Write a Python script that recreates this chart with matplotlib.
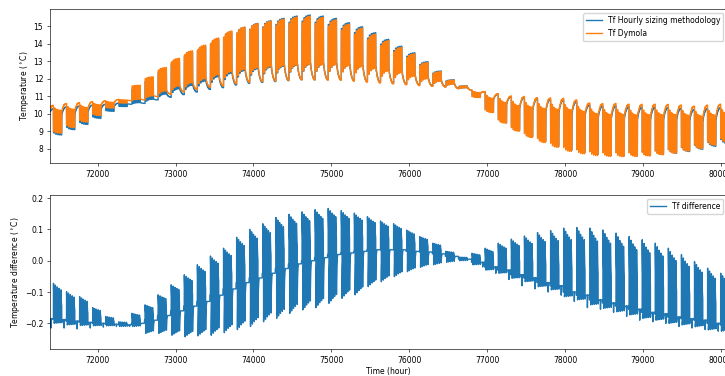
import matplotlib

matplotlib.use("Agg")

import matplotlib.pyplot as plt
import numpy as np

# Hour index of the Monday 00:00 that opens the first week listed below.
FIRST_MONDAY = 71256
ON_START, ON_END = 8, 18  # daily operating window on weekdays

# Weekly readings of the fluid temperature (hourly sizing methodology), deg C.
# Level at the start of the working week, weekday night level, operating level.
HOURLY_WEEKEND = [
    10.2, 10.3, 10.4, 10.45, 10.5, 10.55, 10.62, 10.55, 10.6, 10.8,
    10.95, 11.1, 11.25, 11.4, 11.5, 11.65, 11.75, 11.8, 11.85, 11.9,
    11.95, 11.95, 11.95, 11.95, 11.9, 11.85, 11.8, 11.75, 11.7, 11.65,
    11.6, 11.55, 11.45, 11.35, 11.26, 11.13, 10.98, 10.94, 10.86, 10.83,
    10.79, 10.69, 10.5, 10.45, 10.45, 10.4, 10.38, 10.38, 10.36, 10.32,
    10.25, 10.3, 10.35,
]
HOURLY_NIGHT = [
    9.9, 10.0, 10.05, 10.15, 10.3, 10.45, 10.58, 10.65, 10.85, 11.15,
    11.45, 11.65, 11.9, 12.15, 12.35, 12.5, 12.6, 12.7, 12.75, 12.8,
    12.85, 12.85, 12.85, 12.8, 12.75, 12.65, 12.5, 12.4, 12.2, 12.05,
    11.9, 11.72, 11.5, 11.2, 10.85, 10.6, 10.4, 10.3, 10.2, 10.15,
    10.1, 10.0, 9.85, 9.8, 9.8, 9.75, 9.75, 9.75, 9.75, 9.7,
    9.65, 9.7, 9.75,
]
HOURLY_ON = [
    8.7, 8.8, 9.1, 9.4, 9.75, 10.15, 10.42, 11.45, 11.95, 12.5,
    13.05, 13.5, 13.85, 14.28, 14.7, 14.95, 15.17, 15.32, 15.46, 15.59,
    15.65, 15.59, 15.46, 15.21, 14.98, 14.64, 14.26, 13.87, 13.49, 12.98,
    12.45, 11.95, 11.6, 10.95, 10.1, 9.5, 9.05, 8.7, 8.42, 8.15,
    7.92, 7.78, 7.68, 7.62, 7.6, 7.6, 7.62, 7.68, 7.75, 7.85,
    7.98, 8.15, 8.3,
]

# Weekly readings of Tf difference (hourly - Dymola), deg C.
# Weekend level, peak while the load runs, dip once it stops, weekend spike.
DIFF_BASE = [
    -0.185, -0.188, -0.193, -0.197, -0.2, -0.203, -0.205, -0.2, -0.19, -0.175,
    -0.16, -0.145, -0.13, -0.11, -0.09, -0.07, -0.055, -0.04, -0.025, -0.01,
    0.0, 0.01, 0.02, 0.025, 0.03, 0.035, 0.035, 0.035, 0.03, 0.028,
    0.022, 0.014, 0.005, -0.005, -0.02, -0.03, -0.045, -0.055, -0.07, -0.08,
    -0.1, -0.11, -0.125, -0.135, -0.145, -0.155, -0.165, -0.17, -0.18, -0.185,
    -0.19, -0.2, -0.205,
]
DIFF_ON = [
    -0.06, -0.072, -0.099, -0.115, -0.15, -0.178, -0.195, -0.168, -0.141, -0.109,
    -0.077, -0.045, -0.013, 0.015, 0.04, 0.075, 0.1, 0.118, 0.138, 0.148,
    0.156, 0.163, 0.167, 0.16, 0.152, 0.141, 0.127, 0.118, 0.098, 0.077,
    0.056, 0.03, 0.012, 0.024, 0.04, 0.056, 0.069, 0.079, 0.09, 0.096,
    0.104, 0.106, 0.104, 0.098, 0.088, 0.077, 0.067, 0.056, 0.04, 0.019,
    -0.003, -0.024, -0.04,
]
DIFF_OFF = [
    -0.2, -0.2, -0.205, -0.207, -0.208, -0.208, -0.21, -0.21, -0.232, -0.232,
    -0.238, -0.243, -0.24, -0.238, -0.23, -0.22, -0.21, -0.195, -0.184, -0.168,
    -0.157, -0.15, -0.136, -0.12, -0.109, -0.083, -0.067, -0.051, -0.035, -0.021,
    -0.013, -0.005, 0.0, -0.013, -0.03, -0.04, -0.056, -0.067, -0.083, -0.093,
    -0.115, -0.125, -0.141, -0.152, -0.163, -0.173, -0.184, -0.19, -0.2, -0.205,
    -0.211, -0.221, -0.225,
]
DIFF_SPIKE = [
    -0.215, -0.215, -0.218, -0.215, -0.212, -0.21, -0.21, -0.2, -0.19, -0.175,
    -0.16, -0.145, -0.13, -0.11, -0.09, -0.07, -0.055, -0.04, -0.025, -0.01,
    0.0, 0.01, 0.02, 0.025, 0.03, 0.035, 0.035, 0.035, 0.03, 0.028,
    0.022, 0.014, 0.005, -0.02, -0.04, -0.06, -0.08, -0.09, -0.1, -0.11,
    -0.13, -0.15, -0.155, -0.165, -0.178, -0.19, -0.195, -0.2, -0.21, -0.215,
    -0.22, -0.225, -0.23,
]

# Shape of one week of operation.
NIGHT_WEIGHT = [0.45, 0.2, 0.08, 0.03, 0.0]
WEEKEND_WEIGHT = [0.25, 0.45, 0.6, 0.72, 0.82, 0.9, 0.96, 1.0]  # per 6 h
DAY_SCALE = [1.0, 0.95, 0.9, 0.86, 0.82]
DECAY_ON = [1.0, 0.85, 0.75, 0.68, 0.62, 0.57, 0.53, 0.5, 0.47, 0.45]
DECAY_OFF = [1.0, 0.7, 0.55, 0.45, 0.37, 0.3, 0.25, 0.2, 0.16, 0.13, 0.1, 0.08, 0.06, 0.05]


def hourly_week(k):
    w, n, p = HOURLY_WEEKEND[k], HOURLY_NIGHT[k], HOURLY_ON[k]
    w_next = HOURLY_WEEKEND[min(k + 1, len(HOURLY_WEEKEND) - 1)]
    week = np.empty(168)
    off = w
    for d in range(5):
        h0 = 24 * d
        week[h0:h0 + ON_START] = off
        week[h0 + ON_START:h0 + ON_END] = p + 0.4 * (off - n)
        off = n + (w - n) * NIGHT_WEIGHT[d]
        week[h0 + ON_END:h0 + 24] = off
    week[120:] = n + (w_next - n) * np.repeat(WEEKEND_WEIGHT, 6)
    return week


def diff_week(k):
    base = DIFF_BASE[k]
    week = np.full(168, base)
    decay_on = np.array(DECAY_ON)
    decay_off = np.array(DECAY_OFF)
    for d in range(5):
        h0 = 24 * d
        week[h0 + ON_START:h0 + ON_END] = base + (DIFF_ON[k] - base) * DAY_SCALE[d] * decay_on
        stop = min(h0 + ON_END + len(decay_off), 168)
        week[h0 + ON_END:stop] = base + (DIFF_OFF[k] - base) * DAY_SCALE[d] * decay_off[:stop - h0 - ON_END]
    week[144] = DIFF_SPIKE[k]
    return week


n_weeks = len(HOURLY_WEEKEND)
hours = FIRST_MONDAY + np.arange(168 * n_weeks)
tf_hourly = np.concatenate([hourly_week(k) for k in range(n_weeks)])
tf_diff = np.concatenate([diff_week(k) for k in range(n_weeks)])
tf_dymola = tf_hourly - tf_diff

plt.rcParams.update(
    {
        "font.size": 5.5,
        "lines.linewidth": 1.0,
        "axes.linewidth": 0.45,
        "xtick.major.size": 1.9,
        "ytick.major.size": 1.9,
        "xtick.major.width": 0.45,
        "ytick.major.width": 0.45,
        "xtick.major.pad": 3.2,
        "ytick.major.pad": 3.2,
        "legend.handlelength": 2.0,
    }
)

fig = plt.figure(figsize=(7.25, 3.76), dpi=100)
ax1 = fig.add_axes([0.0694, 0.5665, 0.9334, 0.4088])
ax2 = fig.add_axes([0.0694, 0.0718, 0.9334, 0.4096])

ax1.plot(hours, tf_hourly, label="Tf Hourly sizing methodology")
ax1.plot(hours, tf_dymola, label="Tf Dymola")
ax1.set_xlim(71391, 80081)
ax1.set_ylim(7.2, 15.97)
ax1.set_ylabel(r"Temperature ($^\circ$C)", labelpad=2)
ax1.legend(loc="upper right")

ax2.plot(hours, tf_diff, label="Tf difference")
ax2.set_xlim(71391, 80081)
ax2.set_ylim(-0.282, 0.21)
ax2.set_xlabel("Time (hour)", labelpad=1.2)
ax2.set_ylabel(r"Temperature difference ($^\circ$C)", labelpad=2)
ax2.legend(loc="upper right")

fig.savefig("out.png", dpi=100)
